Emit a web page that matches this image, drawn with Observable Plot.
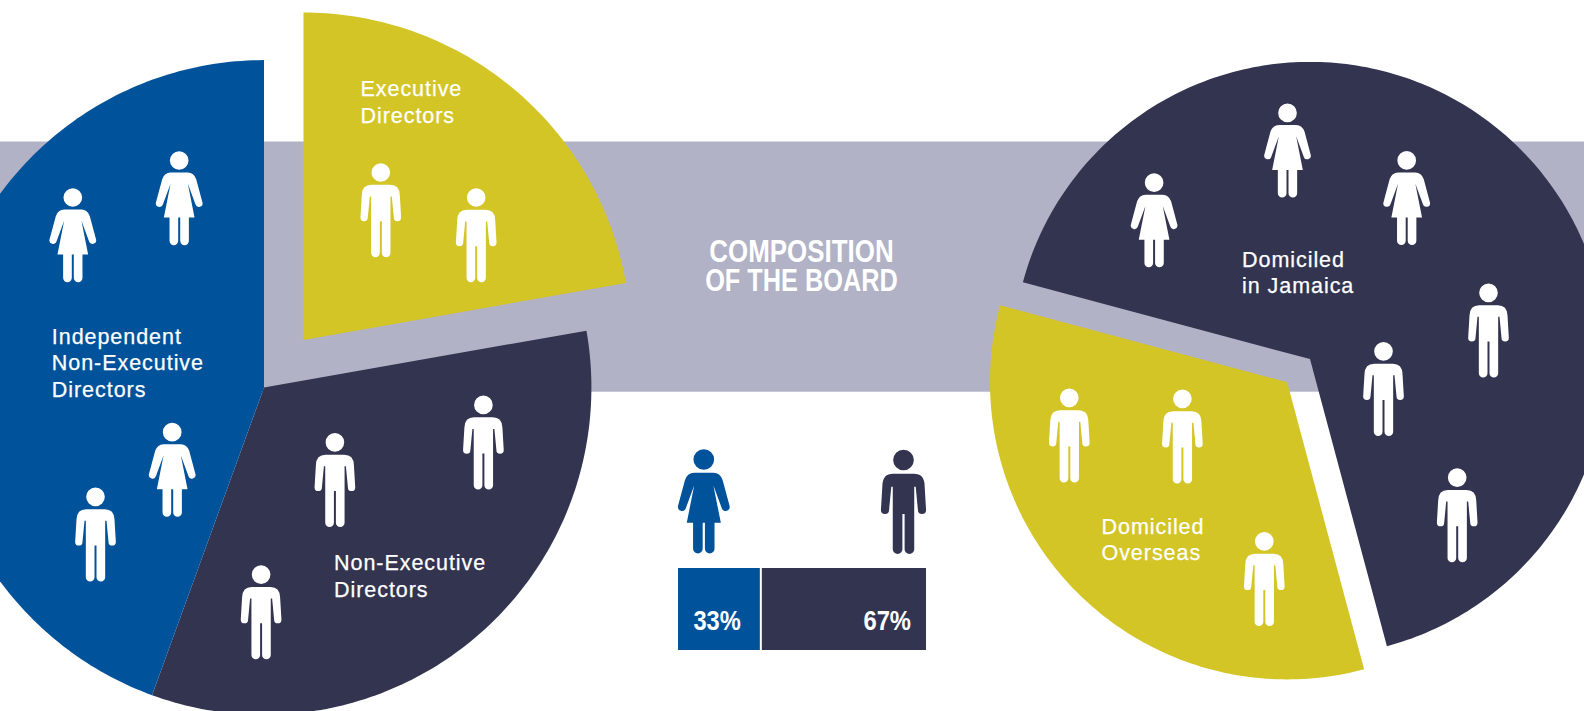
<!DOCTYPE html>
<html>
<head>
<meta charset="utf-8">
<script src="https://cdn.jsdelivr.net/npm/d3@7"></script>
<script src="https://cdn.jsdelivr.net/npm/@observablehq/plot@0.6"></script>
<style>
html,body{margin:0;padding:0;background:#fff;overflow:hidden}
svg g[font-size="21.5"]{letter-spacing:.95px}
</style>
</head>
<body>
<div id="chart"></div>
<script>
// ---- data ----
const boardGroups = ["Executive Directors", "Non-Executive Directors", "Independent Non-Executive Directors"];
const boardCounts = [2, 3, 4];
const domicileGroups = ["Domiciled Overseas", "Domiciled in Jamaica"];
const domicileCounts = [3, 6];
const genderLabels = ["Female", "Male"];
const genderShares = [33, 67];
const titleLines = ["COMPOSITION", "OF THE BOARD"];

// ---- layout and style, separate from the data ----
const W = 1584, H = 711;
const colours = {blue:"#00529b", navy:"#323450", yellow:"#d4c527", band:"#b1b2c5"};
const groupColour = {
  "Executive Directors": colours.yellow,
  "Non-Executive Directors": colours.navy,
  "Independent Non-Executive Directors": colours.blue,
  "Domiciled Overseas": colours.yellow,
  "Domiciled in Jamaica": colours.navy,
  "Female": colours.blue,
  "Male": colours.navy
};
const boardPie = {R:327.4, start:0, apex:[[303,339.4],[263.5,387],[263.5,387]]};
const domicilePie = {R:297.2, start:165, apex:[[1286.7,381.7],[1309.5,358.6]]};
const labelBoxes = [
  {t:"Executive\nDirectors", x:360, y:122},
  {t:"Non-Executive\nDirectors", x:333.5, y:596},
  {t:"Independent\nNon-Executive\nDirectors", x:51.3, y:396},
  {t:"Domiciled\nOverseas", x:1101, y:559.5},
  {t:"Domiciled\nin Jamaica", x:1241.5, y:292.5}
];
const dyIcon = -0.7;
const womenPos = [[72.3,197.7],[178.7,160.7],[171.7,432.4],[1153.6,182.9],[1287,113.1],[1406.2,160.6]];
const menPos = [[95,497],[334.4,442.5],[482.9,405.1],[260.6,574.8],[380.3,172.7],[475.7,197.7],
  [1488,293],[1383,351.5],[1456.7,477.8],[1068.8,398],[1181.9,399],[1263.8,541.5]];
const bar = {x:678, w:248, y1:568, y2:650, labelEnd:[740.3,910.5], labelY:629.3};
const fitWidths = {"COMPOSITION":184.3, "OF THE BOARD":192.7, "33%":47.4, "67%":47.6};

// ---- pictograms ----
const man = {draw(c, size){
  const k = Math.sqrt(size/Math.PI), P = v => v*k;
  c.moveTo(P(28),0); c.arc(0,0,P(28),0,2*Math.PI); c.closePath();
  c.moveTo(P(-28),P(37)); c.lineTo(P(28),P(37));
  c.quadraticCurveTo(P(56),P(37),P(57),P(68));
  c.lineTo(P(61),P(135)); c.arc(P(50),P(135),P(11),0,Math.PI);
  c.lineTo(P(33),P(72)); c.lineTo(P(29),P(72)); c.lineTo(P(29),P(241));
  c.arc(P(16),P(241),P(13),0,Math.PI);
  c.lineTo(P(3),P(146)); c.lineTo(P(-3),P(146)); c.lineTo(P(-3),P(241));
  c.arc(P(-16),P(241),P(13),0,Math.PI);
  c.lineTo(P(-29),P(72)); c.lineTo(P(-33),P(72)); c.lineTo(P(-39),P(135));
  c.arc(P(-50),P(135),P(11),0,Math.PI);
  c.lineTo(P(-57),P(68));
  c.quadraticCurveTo(P(-56),P(37),P(-28),P(37));
  c.closePath();
}};
const woman = {draw(c, size){
  const k = Math.sqrt(size/Math.PI), P = v => v*k, a = 0.259;
  c.moveTo(P(28),0); c.arc(0,0,P(28),0,2*Math.PI); c.closePath();
  c.moveTo(P(-26),P(36)); c.lineTo(P(26),P(36));
  c.quadraticCurveTo(P(44),P(36),P(51),P(56));
  c.lineTo(P(69.6),P(125.2)); c.arc(P(59),P(128),P(11),-a,Math.PI-a);
  c.lineTo(P(26),P(70)); c.lineTo(P(46),P(171)); c.lineTo(P(29),P(171)); c.lineTo(P(29),P(241));
  c.arc(P(16),P(241),P(13),0,Math.PI);
  c.lineTo(P(3),P(171)); c.lineTo(P(-3),P(171)); c.lineTo(P(-3),P(241));
  c.arc(P(-16),P(241),P(13),0,Math.PI);
  c.lineTo(P(-29),P(171)); c.lineTo(P(-46),P(171)); c.lineTo(P(-26),P(70)); c.lineTo(P(-48.4),P(130.8));
  c.arc(P(-59),P(128),P(11),a,Math.PI+a);
  c.lineTo(P(-51),P(56));
  c.quadraticCurveTo(P(-44),P(36),P(-26),P(36));
  c.closePath();
}};

// ---- derive slices from the counts ----
function slicePoints(groups, counts, pie){
  const rad = Math.PI/180, a0 = pie.start*rad;
  const arcs = d3.pie().sort(null).startAngle(a0).endAngle(a0+2*Math.PI)(counts);
  const pts = [];
  arcs.forEach((s,i)=>{
    const [cx,cy] = pie.apex[i], g = groups[i];
    pts.push({g,x:cx,y:cy});
    const n = Math.ceil((s.endAngle-s.startAngle)/rad);
    for(let j=0;j<=n;j++){
      const a = s.startAngle+(s.endAngle-s.startAngle)*j/n;
      pts.push({g,x:cx+pie.R*Math.sin(a),y:cy-pie.R*Math.cos(a)});
    }
    pts.push({g,x:cx,y:cy});
  });
  return pts;
}
const slices = [...slicePoints(boardGroups,boardCounts,boardPie),...slicePoints(domicileGroups,domicileCounts,domicilePie)];
const ends = [...d3.cumsum(genderShares)];
const barRows = genderLabels.map((g,i)=>({g,share:genderShares[i],from:i?ends[i-1]:0,to:ends[i],i}));
const px = s => bar.x+bar.w*s/100;
const fst = d=>d[0], snd = d=>d[1]+dyIcon;
const boldFont = "'Liberation Sans',sans-serif";

const chart = Plot.plot({
  width:W, height:H, margin:0,
  x:{domain:[0,W],range:[0,W],axis:null},
  y:{domain:[0,H],range:[0,H],axis:null},
  color:{type:"identity"},
  style:{background:"#fff",overflow:"hidden"},
  marks:[
    Plot.rect([{}],{x1:0,x2:W,y1:141.5,y2:391.7,fill:colours.band}),
    Plot.line(slices,{x:"x",y:"y",z:"g",fill:d=>groupColour[d.g],stroke:"none"}),
    Plot.dot(womenPos,{x:fst,y:snd,r:1/3,symbol:woman,fill:"#fff"}),
    Plot.dot(menPos,{x:fst,y:snd,r:1/3,symbol:man,fill:"#fff"}),
    Plot.dot([[703.3,459.7]],{x:fst,y:snd,r:1.11/3,symbol:woman,fill:colours.blue}),
    Plot.dot([[903,460.2]],{x:fst,y:snd,r:1.11/3,symbol:man,fill:colours.navy}),
    Plot.rect(barRows.filter(d=>d.i===0),{x1:d=>px(d.from),x2:d=>px(d.to),y1:bar.y1,y2:bar.y2,fill:d=>groupColour[d.g]}),
    Plot.rect(barRows.filter(d=>d.i===1),{x1:d=>px(d.from),x2:d=>px(d.to),y1:bar.y1,y2:bar.y2,fill:d=>groupColour[d.g],insetLeft:2}),
    Plot.text(barRows,{x:d=>bar.labelEnd[d.i],y:bar.labelY,text:d=>d.share+"%",fill:"#fff",fontSize:27,fontWeight:700,fontFamily:boldFont,textAnchor:"end",lineAnchor:"bottom"}),
    Plot.text(labelBoxes,{x:"x",y:"y",text:"t",fill:"#fff",stroke:"#fff",strokeWidth:0.25,fontSize:21.5,fontFamily:"'Liberation Sans',sans-serif",textAnchor:"start",lineAnchor:"bottom",lineHeight:26.3/21.5}),
    Plot.text(titleLines,{x:801,y:(d,i)=>261.7+29*i,text:d=>d,fill:"#fff",fontSize:31,fontWeight:700,fontFamily:boldFont,textAnchor:"middle",lineAnchor:"bottom"})
  ]
});
// condense the bold texts to the narrow widths of the reference lettering
chart.querySelectorAll("text").forEach(t=>{
  const w = fitWidths[t.textContent];
  if (w) { t.setAttribute("textLength", w); t.setAttribute("lengthAdjust", "spacingAndGlyphs"); }
});
document.getElementById("chart").append(chart);
</script>
</body>
</html>
